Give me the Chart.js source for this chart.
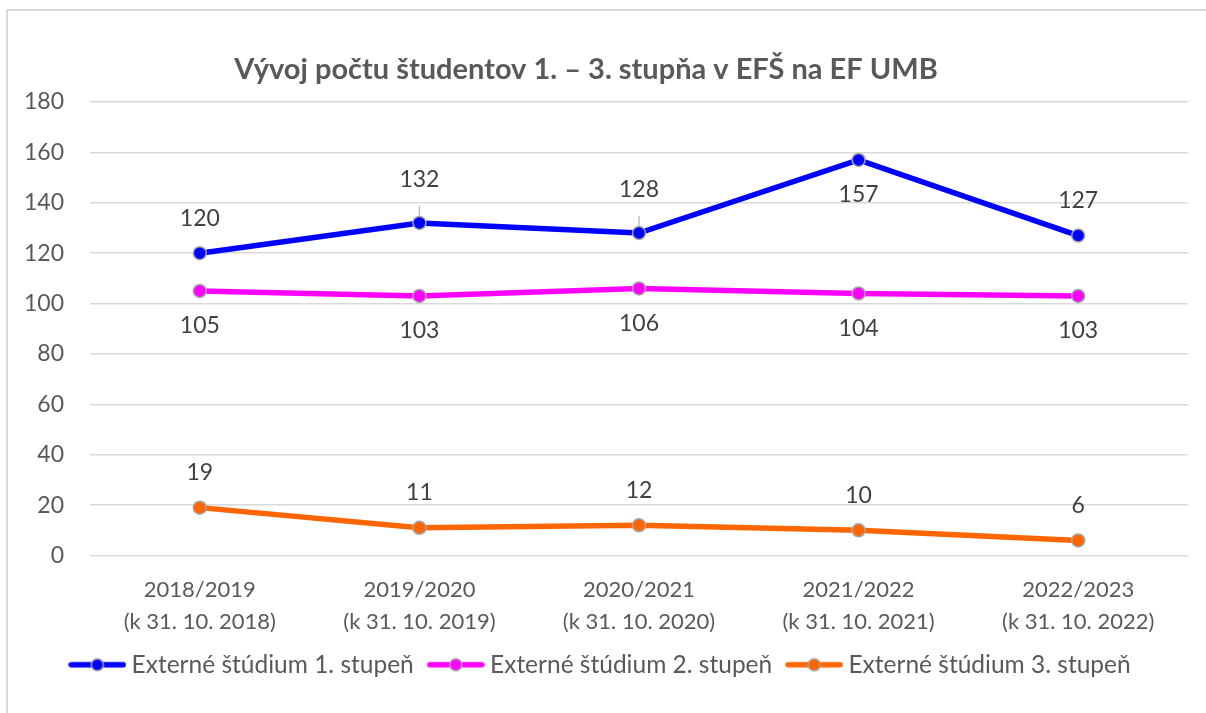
<!DOCTYPE html>
<html>
<head>
<meta charset="utf-8">
<script src="https://cdn.jsdelivr.net/npm/chart.js@4/dist/chart.umd.min.js"></script>
<style>
  html, body { margin: 0; padding: 0; background: #fff; }
  #wrap { position: relative; width: 1206px; height: 713px; }
</style>
</head>
<body>
<div id="wrap"><canvas id="chart" width="1206" height="713"></canvas></div>
<script>
var categories = [
  ['2018/2019', '(k 31. 10. 2018)'],
  ['2019/2020', '(k 31. 10. 2019)'],
  ['2020/2021', '(k 31. 10. 2020)'],
  ['2021/2022', '(k 31. 10. 2021)'],
  ['2022/2023', '(k 31. 10. 2022)']
];
var stupen1 = [120, 132, 128, 157, 127];
var stupen2 = [105, 103, 106, 104, 103];
var stupen3 = [19, 11, 12, 10, 6];
var seriesNames = ['Externé štúdium 1. stupeň', 'Externé štúdium 2. stupeň', 'Externé štúdium 3. stupeň'];
var yTicks = [0, 20, 40, 60, 80, 100, 120, 140, 160, 180];

// where each data label sits relative to its point
var labelSide1 = ['above', 'above', 'above', 'below', 'above'];
var labelSide2 = ['below', 'below', 'below', 'below', 'below'];
var labelSide3 = ['above', 'above', 'above', 'above', 'above'];
var leader1 = [false, true, true, false, false];

var FONT = 'Lato, "Open Sans", sans-serif';
var colors = ['#0000ff', '#ff00ff', '#ff6600'];

function legendSymbol(color) {
  var c = document.createElement('canvas');
  c.width = 58;
  c.height = 16;
  var g = c.getContext('2d');
  g.strokeStyle = color;
  g.lineWidth = 5.5;
  g.lineCap = 'round';
  g.beginPath();
  g.moveTo(3, 8);
  g.lineTo(55, 8);
  g.stroke();
  g.beginPath();
  g.arc(29, 8, 6, 0, Math.PI * 2);
  g.fillStyle = color;
  g.fill();
  g.lineWidth = 1.5;
  g.strokeStyle = '#a6a6a6';
  g.stroke();
  return c;
}

var frameAndTitle = {
  id: 'frameAndTitle',
  beforeDraw: function (chart) {
    var ctx = chart.ctx;
    ctx.save();
    ctx.strokeStyle = '#d9d9d9';
    ctx.lineWidth = 2;
    ctx.strokeRect(7, 10, 1400, 900);
    ctx.restore();
  },
  afterDraw: function (chart) {
    var ctx = chart.ctx;
    ctx.save();
    ctx.fillStyle = '#595959';
    ctx.font = 'bold 29px ' + FONT;
    ctx.textAlign = 'center';
    ctx.textBaseline = 'middle';
    ctx.fillText('Vývoj počtu študentov 1. – 3. stupňa v EFŠ na EF UMB', 586, 70);
    ctx.restore();
  }
};

var dataLabels = {
  id: 'dataLabels',
  afterDatasetsDraw: function (chart) {
    var ctx = chart.ctx;
    ctx.save();
    ctx.font = '23px ' + FONT;
    ctx.fillStyle = '#404040';
    ctx.textAlign = 'center';
    ctx.textBaseline = 'middle';
    chart.data.datasets.forEach(function (ds, di) {
      var meta = chart.getDatasetMeta(di);
      meta.data.forEach(function (pt, i) {
        var side = ds.labelSide[i];
        var off = 35;
        if (ds.leader && ds.leader[i]) {
          off = 43;
          ctx.strokeStyle = '#a6a6a6';
          ctx.lineWidth = 1;
          ctx.beginPath();
          ctx.moveTo(pt.x, pt.y - 6);
          ctx.lineTo(pt.x, pt.y - 17);
          ctx.stroke();
        }
        var y = side === 'above' ? pt.y - off : pt.y + off;
        ctx.fillText(String(ds.data[i]), pt.x, y);
      });
    });
    ctx.restore();
  }
};

function makeDataset(name, values, color, sides, leader) {
  return {
    label: name,
    data: values,
    borderColor: color,
    backgroundColor: color,
    borderWidth: 5.5,
    pointRadius: 6.5,
    pointHoverRadius: 6.5,
    pointBackgroundColor: color,
    pointBorderColor: '#a6a6a6',
    pointBorderWidth: 1.5,
    tension: 0,
    fill: false,
    labelSide: sides,
    leader: leader
  };
}

new Chart(document.getElementById('chart'), {
  type: 'line',
  data: {
    labels: categories,
    datasets: [
      makeDataset(seriesNames[0], stupen1, colors[0], labelSide1, leader1),
      makeDataset(seriesNames[1], stupen2, colors[1], labelSide2, null),
      makeDataset(seriesNames[2], stupen3, colors[2], labelSide3, null)
    ]
  },
  options: {
    responsive: false,
    animation: false,
    layout: {
      padding: { top: 102, right: 18, bottom: 26, left: 18 }
    },
    plugins: {
      title: { display: false },
      tooltip: { enabled: false },
      legend: {
        position: 'bottom',
        labels: {
          font: { family: FONT, size: 24.5 },
          color: '#595959',
          usePointStyle: true,
          pointStyleWidth: 44,
          padding: 20,
          generateLabels: function (chart) {
            return chart.data.datasets.map(function (ds, i) {
              return {
                text: ds.label,
                pointStyle: legendSymbol(ds.borderColor),
                fillStyle: ds.borderColor,
                strokeStyle: ds.borderColor,
                lineWidth: 0,
                fontColor: '#595959',
                datasetIndex: i
              };
            });
          }
        }
      }
    },
    scales: {
      x: {
        offset: true,
        grid: { display: false, drawTicks: false },
        border: { display: false },
        afterFit: function (scale) { scale.height = 77; },
        ticks: {
          color: '#595959',
          font: { family: FONT, size: 22, lineHeight: 1.4545 },
          maxRotation: 0,
          padding: 18
        }
      },
      y: {
        min: 0,
        max: 180,
        afterFit: function (scale) { scale.width = 72; },
        afterBuildTicks: function (scale) {
          scale.ticks = yTicks.map(function (v) { return { value: v }; });
        },
        grid: { color: '#d9d9d9', lineWidth: 1.5, drawTicks: false },
        border: { display: false },
        ticks: {
          color: '#595959',
          font: { family: FONT, size: 23 },
          padding: 26
        }
      }
    }
  },
  plugins: [frameAndTitle, dataLabels]
});
</script>
</body>
</html>
